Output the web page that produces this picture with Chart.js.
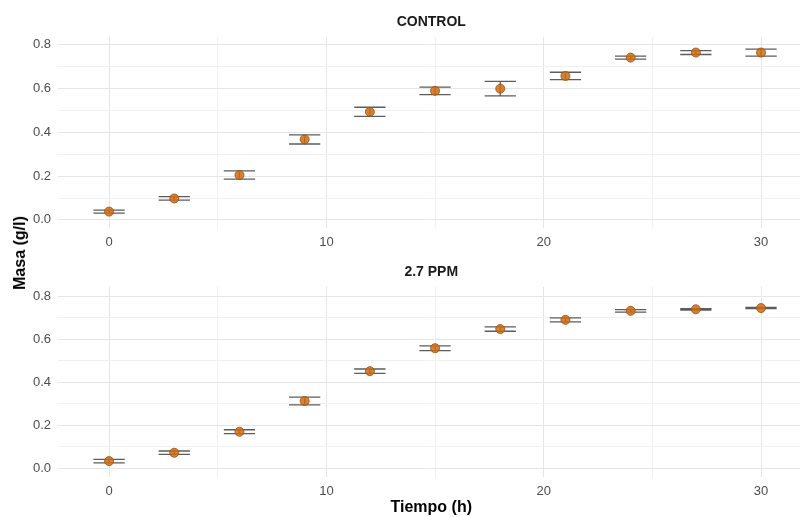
<!DOCTYPE html>
<html>
<head>
<meta charset="utf-8">
<script src="https://cdn.jsdelivr.net/npm/chart.js@4.4.0/dist/chart.umd.min.js"></script>
<style>
  html, body { margin: 0; padding: 0; background: #fff; overflow: hidden; width: 800px; height: 517px; }
  #top { position: absolute; left: 0; top: 0; }
  #bottom { position: absolute; left: 0; top: 250px; }
  #ylab {
    position: absolute; left: 20px; top: 253px;
    transform: translate(-50%, -50%) rotate(-90deg);
    font: bold 16px "Liberation Sans", Arial, sans-serif;
    white-space: nowrap; color: #000;
  }
</style>
</head>
<body>
<canvas id="top" width="810" height="250"></canvas>
<canvas id="bottom" width="810" height="267"></canvas>
<div id="ylab">Masa (g/l)</div>
<script>
// data
const tiempo = [0, 3, 6, 9, 12, 15, 18, 21, 24, 27, 30];
const controlMasa = [0.038, 0.098, 0.205, 0.368, 0.494, 0.590, 0.600, 0.658, 0.742, 0.765, 0.765];
const controlErr = [0.007, 0.008, 0.019, 0.021, 0.021, 0.017, 0.033, 0.017, 0.007, 0.009, 0.016];
const ppmMasa = [0.033, 0.072, 0.170, 0.313, 0.452, 0.559, 0.648, 0.691, 0.733, 0.740, 0.746];
const ppmErr = [0.008, 0.008, 0.009, 0.018, 0.010, 0.011, 0.010, 0.009, 0.006, 0.003, 0.003];
const xTicks = [0, 5, 10, 15, 20, 25, 30];
const yTicks = [0, 0.1, 0.2, 0.3, 0.4, 0.5, 0.6, 0.7, 0.8];

const FONT = '"Liberation Sans", Arial, sans-serif';
const capHalf = 0.72;

// ggplot style error bars, drawn before the points
const errorBars = {
  id: 'errorBars',
  beforeDatasetsDraw(chart) {
    const ctx = chart.ctx;
    const x = chart.scales.x, y = chart.scales.y;
    chart.data.datasets.forEach(ds => {
      if (!ds.errors) return;
      ctx.save();
      ctx.strokeStyle = '#5c5c5c';
      ctx.lineWidth = 1.3;
      ds.data.forEach((p, i) => {
        const e = ds.errors[i];
        const x0 = x.getPixelForValue(p.x - capHalf);
        const x1 = x.getPixelForValue(p.x + capHalf);
        const xc = x.getPixelForValue(p.x);
        const yh = y.getPixelForValue(p.y + e);
        const yl = y.getPixelForValue(p.y - e);
        ctx.beginPath();
        ctx.moveTo(x0, yh); ctx.lineTo(x1, yh);
        ctx.moveTo(x0, yl); ctx.lineTo(x1, yl);
        ctx.moveTo(xc, yh); ctx.lineTo(xc, yl);
        ctx.stroke();
      });
      ctx.restore();
    });
  }
};

function isMajor(v, step) {
  return Math.abs(v / step - Math.round(v / step)) < 1e-6;
}

function makeChart(id, title, masa, err, opts) {
  const pts = tiempo.map((t, i) => ({ x: t, y: masa[i] }));
  return new Chart(document.getElementById(id), {
    type: 'scatter',
    data: {
      datasets: [{
        data: pts,
        errors: err,
        pointRadius: 4.5,
        pointBackgroundColor: 'rgba(205,108,20,0.85)',
        pointBorderColor: 'rgba(165,82,12,0.85)',
        pointBorderWidth: 1
      }]
    },
    options: {
      responsive: false,
      animation: false,
      layout: { padding: 0 },
      plugins: {
        legend: { display: false },
        tooltip: { enabled: false },
        title: {
          display: true,
          text: title,
          fullSize: false,
          color: '#1a1a1a',
          font: { family: FONT, size: 14, weight: 'bold' },
          padding: { top: 14, bottom: 6 }
        }
      },
      scales: {
        x: {
          type: 'linear',
          min: -2.35,
          max: 32.0,
          border: { display: false },
          grid: {
            drawTicks: false,
            color: c => isMajor(c.tick.value, 10) ? '#e6e6e6' : '#f0f0f0',
            lineWidth: 1
          },
          afterBuildTicks: s => { s.ticks = xTicks.map(v => ({ value: v })); },
          afterFit: s => { s.height = opts.xHeight; },
          ticks: {
            padding: 7,
            color: '#4d4d4d',
            font: { family: FONT, size: 13 },
            callback: v => isMajor(v, 10) ? v : ''
          },
          title: {
            display: opts.xTitle,
            text: 'Tiempo (h)',
            color: '#000',
            padding: 0,
            font: { family: FONT, size: 16, weight: 'bold' }
          }
        },
        y: {
          min: opts.yMin,
          max: opts.yMax,
          border: { display: false },
          grid: {
            drawTicks: false,
            color: c => isMajor(c.tick.value, 0.2) ? '#e6e6e6' : '#f0f0f0',
            lineWidth: 1
          },
          afterBuildTicks: s => { s.ticks = yTicks.map(v => ({ value: v })); },
          afterFit: s => { s.width = 58; },
          ticks: {
            padding: 7,
            color: '#4d4d4d',
            font: { family: FONT, size: 13 },
            callback: v => isMajor(v, 0.2) ? v.toFixed(1) : ''
          }
        }
      }
    },
    plugins: [errorBars]
  });
}

makeChart('top', 'CONTROL', controlMasa, controlErr, { yMin: -0.037, yMax: 0.837, xHeight: 22, xTitle: false });
makeChart('bottom', '2.7 PPM', ppmMasa, ppmErr, { yMin: -0.041, yMax: 0.845, xHeight: 40, xTitle: true });
</script>
</body>
</html>
